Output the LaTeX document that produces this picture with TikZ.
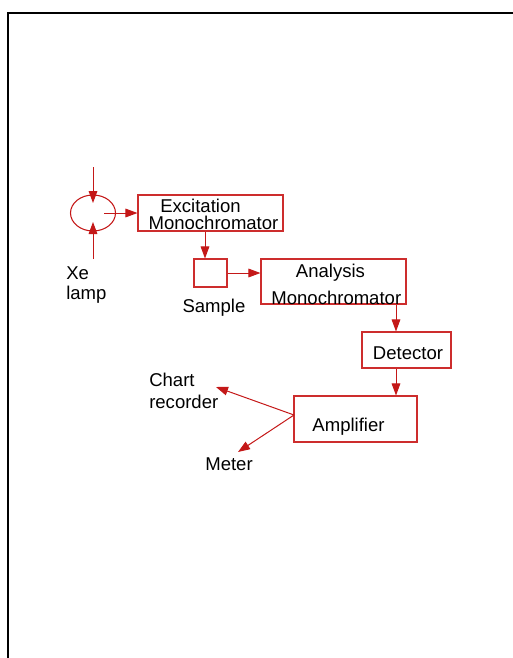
\documentclass[tikz,border=0pt]{standalone}
\usepackage{fontspec}
\setmainfont{Liberation Sans}
\usetikzlibrary{arrows.meta,shapes.geometric}
\definecolor{wire}{RGB}{196,24,24}
\definecolor{edge}{RGB}{205,45,45}
\tikzset{
  box/.style={draw=edge, line width=0.8pt, inner sep=0pt, rectangle},
  lbl/.style={font=\fontsize{13.9}{16}\selectfont, inner sep=0pt, anchor=base},
  lbll/.style={lbl, anchor=base west},
  flow/.style={draw=wire, line width=0.75pt, -{Triangle[length=9pt,width=6.5pt]}},
}
\begin{document}
\begin{tikzpicture}[x=0.75pt,y=-0.75pt]
\useasboundingbox (0,0) rectangle (513,658);
% page frame
\draw[line width=1.5pt] (8,658) -- (8,13) -- (513,13);

% lamp
\node[ellipse, draw=wire, line width=0.8pt, minimum width=33.75pt, minimum height=27pt, inner sep=0pt] (lamp) at (93,213) {};
\coordinate (lampin1) at (93,167);
\coordinate (lampin2) at (93,259);
\coordinate (lamptip1) at (93,203);
\coordinate (lamptip2) at (93,222);
\coordinate (lampout) at (104,213);
\draw[flow] (lampin1) -- (lamptip1);
\draw[flow] (lampin2) -- (lamptip2);
\node[lbll] (xe) at (66,279) {Xe};
\node[lbll] (lampl) at (66,299) {lamp};

% boxes
\node[box, minimum width=108.75pt, minimum height=27pt] (exc) at (210.5,213) {};
\node[box, minimum width=24.75pt, minimum height=21pt] (sample) at (210.5,273) {};
\node[box, minimum width=108.75pt, minimum height=33.75pt] (ana) at (333.5,281.5) {};
\node[box, minimum width=66.75pt, minimum height=27pt] (det) at (406.5,350) {};
\node[box, minimum width=92.25pt, minimum height=34.5pt] (amp) at (355.5,419) {};

% box texts
\node[lbl] (exct1) at (200.5,212.7) {Excitation};
\node[lbl] (exct2) at (213.5,229.3) {Monochromator};
\node[lbl] (samplet) at (214,312) {Sample};
\node[lbl] (anat1) at (330.5,277.3) {Analysis};
\node[lbl] (anat2) at (336.3,304) {Monochromator};
\node[lbl] (dett) at (408,359.5) {Detector};
\node[lbl] (ampt) at (348.5,431) {Amplifier};
\node[lbll] (chart1) at (149,386) {Chart};
\node[lbll] (chart2) at (149,408) {recorder};
\node[lbl] (meter) at (229,470) {Meter};

% outputs of the amplifier
\coordinate (ampout) at (294,415);
\coordinate (charttip) at (216,387);
\coordinate (metertip) at (238,452);

% light path
\draw[flow] (lampout) -- (lampout -| exc.west);
\draw[flow] (exc.south -| 205,0) -- (sample.north -| 205,0);
\draw[flow] (sample.east) -- (sample.east -| ana.west);
\draw[flow] (ana.south -| 396,0) -- (det.north -| 396,0);
\draw[flow] (det.south -| 396,0) -- (amp.north -| 396,0);
\draw[flow] (ampout) -- (charttip);
\draw[flow] (ampout) -- (metertip);
\end{tikzpicture}
\end{document}
